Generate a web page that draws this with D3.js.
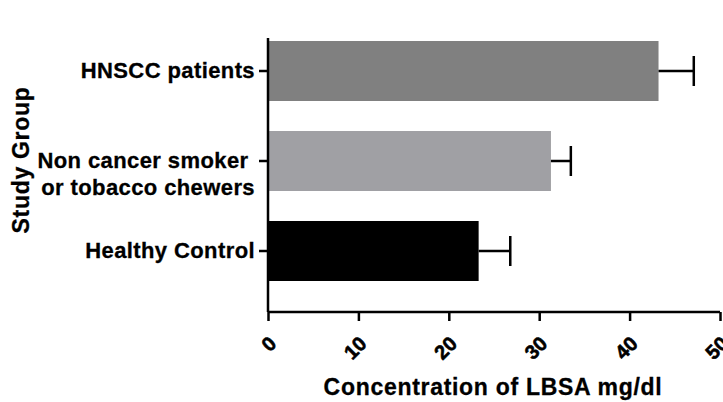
<!DOCTYPE html>
<html><head><meta charset="utf-8">
<script src="https://cdn.jsdelivr.net/npm/d3@7"></script>
<style>body{margin:0;background:#fff}text{font-family:"Liberation Sans",Arial,sans-serif;font-weight:bold;fill:#000}</style>
</head><body><svg id="c" width="723" height="402"></svg>
<script>
const groups = ["HNSCC patients", "Non cancer smoker \nor tobacco chewers", "Healthy Control"];
const means = [43.2, 31.3, 23.3];
const errors = [3.9, 2.2, 3.5];
const colors = ["#808080", "#a0a0a4", "#000000"];
const xTicks = [0, 10, 20, 30, 40, 50];

const svg = d3.select("#c");
const x = d3.scaleLinear().domain([0, 50]).range([268, 720]);
const y = d3.scaleBand().domain(groups).range([26, 296]).paddingInner(1/3).paddingOuter(1/6);

// bars
svg.selectAll("rect.bar").data(groups).enter().append("rect")
  .attr("x", x(0)).attr("y", d => y(d))
  .attr("width", (d, i) => x(means[i]) - x(0))
  .attr("height", y.bandwidth())
  .attr("fill", (d, i) => colors[i]);

// error bars
const eg = svg.append("g").attr("stroke", "#000").attr("stroke-width", 2.5);
groups.forEach((g, i) => {
  const cy = y(g) + y.bandwidth() / 2;
  eg.append("line").attr("x1", x(means[i])).attr("x2", x(means[i] + errors[i])).attr("y1", cy).attr("y2", cy);
  eg.append("line").attr("x1", x(means[i] + errors[i])).attr("x2", x(means[i] + errors[i])).attr("y1", cy - 15).attr("y2", cy + 15);
});

// x axis
const xa = svg.append("g").attr("transform", "translate(0,312)")
  .call(d3.axisBottom(x).tickValues(xTicks).tickSize(9).tickSizeOuter(0).tickFormat(d3.format("d")));
xa.select(".domain").attr("stroke-width", 2.5).attr("d", `M${x(0)},0H${x(50)}`);
xa.selectAll(".tick line").attr("stroke-width", 2.5);
xa.selectAll(".tick text").attr("font-size", 20).attr("font-family", "Liberation Sans, Arial, sans-serif")
  .attr("font-weight", "bold").attr("stroke", "#000").attr("stroke-width", 0.6)
  .attr("text-anchor", "end").attr("dy", null).attr("y", 0)
  .attr("transform", "translate(9,33) rotate(-45)");

// y axis
const ya = svg.append("g").attr("transform", `translate(${x(0)},0)`)
  .call(d3.axisLeft(y).tickSize(9).tickSizeOuter(0).tickFormat(""));
ya.select(".domain").attr("stroke-width", 2.5).attr("d", "M0,38V312");
ya.selectAll(".tick line").attr("stroke-width", 2.5);
ya.selectAll(".tick").each(function(d) {
  const lines = d.split("\n");
  const t = d3.select(this).append("text").attr("x", -13).attr("text-anchor", "end")
    .attr("font-size", 22).attr("letter-spacing", 0.4).attr("stroke", "#000").attr("stroke-width", 0.3)
    .attr("font-family", "Liberation Sans, Arial, sans-serif").attr("font-weight", "bold");
  lines.forEach((l, k) => {
    t.append("tspan").attr("x", -13)
      .attr("y", k * 27 + 7).text(l);
  });
});

// titles
svg.append("text").attr("x", 493).attr("y", 395).attr("text-anchor", "middle").attr("font-size", 23).attr("letter-spacing", 0.7).attr("stroke", "#000").attr("stroke-width", 0.3).text("Concentration of LBSA mg/dl");
svg.append("text").attr("transform", "translate(29,160) rotate(-90)").attr("text-anchor", "middle").attr("font-size", 23).attr("letter-spacing", 0.7).attr("stroke", "#000").attr("stroke-width", 0.3).text("Study Group");
</script></body></html>
